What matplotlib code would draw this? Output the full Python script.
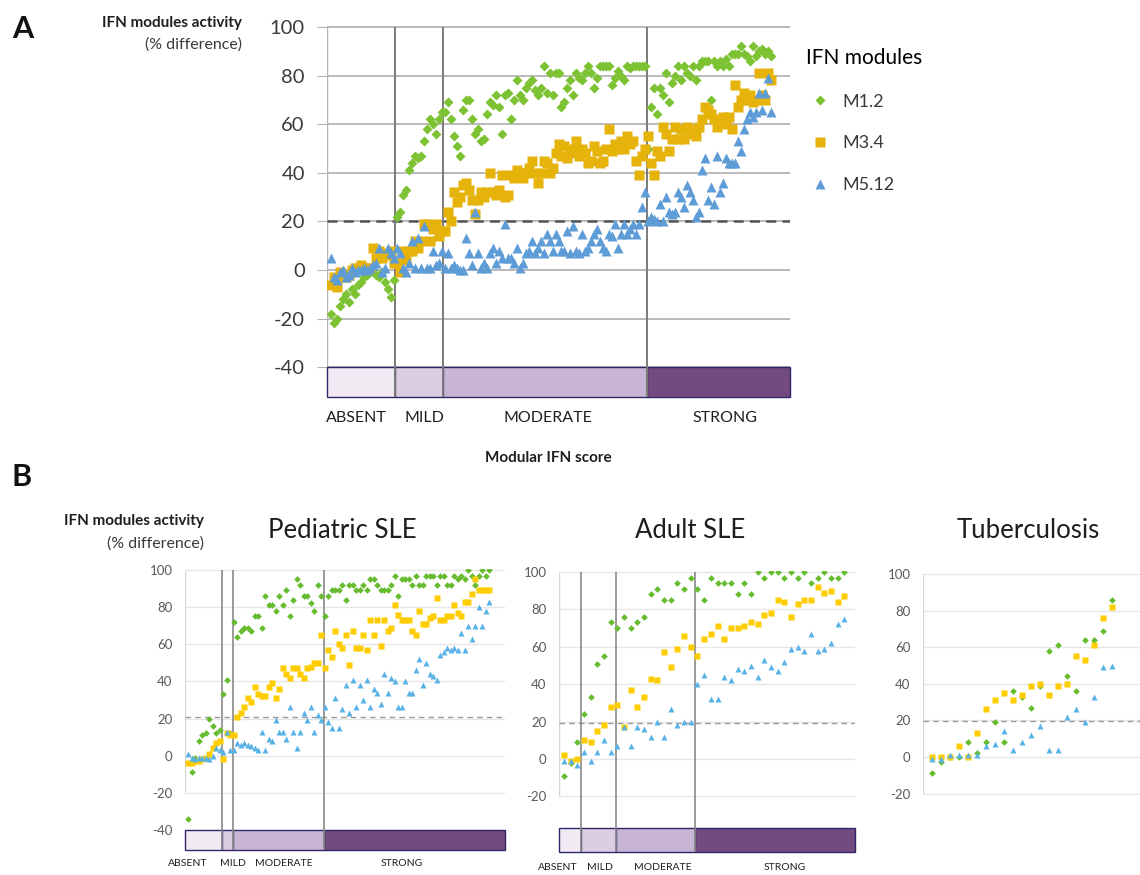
import numpy as np
import matplotlib.pyplot as plt

plt.rcParams['font.family'] = ['Lato', 'DejaVu Sans']

W, H = 1140, 875

# ---------------- data ----------------
levels = ['ABSENT', 'MILD', 'MODERATE', 'STRONG']
level_colors = ['#f2eaf3', '#dccde2', '#c8b4d4', '#744b80']
modules = ['M1.2', 'M3.4', 'M5.12']

# panel A: samples ranked by modular IFN score
a_bounds = [21.5, 37.5, 105.5]
a_m12 = [-18, -22, -20, -15, -12, -10, -13, -8, -10, -6, -5, -3, -2, -1, 0, -2, -3, -1, -5, -8, -11, -4,
         22, 24, 31, 33, 41, 44, 47, 46, 47, 53, 58, 62, 60, 56, 62, 65,
         65, 69, 62, 55, 51, 47, 66, 70, 70, 62, 56, 58, 53, 54, 64, 69, 68, 72, 67, 56,
         72, 73, 62, 70, 78, 72, 70, 75, 77, 78, 74, 72, 75, 84, 73, 81, 72, 81, 81, 67,
         69, 75, 78, 72, 81, 79, 78, 81, 84, 81, 75, 79, 84, 84, 84, 84, 76, 79, 82, 80,
         78, 84, 83, 84, 84, 84, 84, 84,
         50, 67, 75, 64, 75, 72, 81, 69, 77, 80, 84, 78, 84, 81, 80, 84, 78, 84, 86, 86,
         86, 70, 86, 84, 86, 84, 87, 84, 89, 89, 89, 92, 89, 88, 86, 92, 88, 90, 91, 89, 90, 88]
a_m34 = [-6, -3, -7, -1, -3, -3, -2, 0, 1, 1, 2, 1, 1, 1, 9, 5, 8, 5, 7, 6, 8, 3,
         3, -1, 8, 4, 8, 8, 12, 9, 12, 19, 19, 12, 17, 19, 14, 16,
         16, 24, 20, 32, 28, 30, 35, 36, 33, 29, 23, 29, 32, 30, 32, 40, 32, 31, 33, 39,
         30, 31, 39, 38, 41, 40, 38, 40, 42, 45, 40, 36, 40, 45, 44, 40, 42, 48, 52, 47,
         51, 46, 48, 50, 53, 47, 50, 48, 44, 45, 51, 49, 44, 45, 50, 58, 49, 52, 50, 53,
         50, 55, 52, 53, 45, 39, 47, 50,
         55, 44, 39, 49, 47, 59, 56, 49, 54, 59, 54, 58, 54, 59, 56, 58, 55, 59, 62, 67,
         66, 64, 62, 59, 61, 63, 60, 63, 58, 76, 67, 70, 73, 70, 72, 69, 70, 81, 72, 70, 81, 78]
a_m512 = [5, -3, -4, -1, 0, -3, -2, 1, -1, 0, 0, 1, 0, 1, 2, 3, 9, -1, 1, 9, 7, 5,
          9, 7, 1, -1, 3, 12, 1, 13, 1, 18, 1, 1, 8, 2, 3, 8,
          1, 7, 1, 2, 1, 0, 0, 13, 7, 2, 24, 7, 1, 3, 1, 7, 9, 3, 8, 5,
          19, 5, 5, 3, 9, 1, 3, 7, 8, 12, 7, 9, 12, 7, 15, 12, 8, 15, 12, 8,
          8, 16, 7, 18, 8, 7, 15, 8, 9, 12, 15, 17, 12, 9, 8, 15, 14, 19, 9, 15,
          19, 15, 17, 19, 15, 19, 26, 32,
          20, 22, 21, 20, 27, 20, 30, 24, 23, 24, 32, 30, 26, 35, 32, 29, 22, 24, 41, 46,
          29, 34, 27, 47, 32, 36, 46, 44, 44, 44, 53, 49, 58, 62, 65, 63, 65, 73, 66, 73, 79, 65]

# panel B: pediatric SLE
ped_bounds = [9.6, 12.8, 38.8]
ped_m12 = [-34, -9, -1, 8, 11, 12, 20, 16, 12, 14, 33, 41, 12,
           72, 64, 67, 69, 69, 67, 75, 75, 69, 86, 81, 81, 78, 86, 81, 89, 75, 84, 95, 92,
           86, 86, 82, 78, 92, 86,
           75, 86, 89, 89, 89, 92, 84, 92, 92, 89, 89, 92, 89, 95, 95, 92, 89, 89, 89, 92,
           97, 86, 95, 95, 95, 92, 97, 92, 92, 97, 97, 97, 92, 97, 97, 92, 92, 97, 95, 97,
           95, 100, 97, 92, 97, 100, 97, 100]
ped_m34 = [-4, -4, -3, -3, -2, -1, 1, 4, 7, 8, -2, 12, 11,
           11, 21, 23, 26, 31, 29, 37, 33, 32, 32, 37, 39, 31, 36, 47, 44, 42, 47, 47, 44,
           42, 47, 48, 50, 50, 65,
           47, 57, 53, 67, 60, 58, 65, 49, 67, 58, 58, 65, 57, 73, 65, 73, 59, 73, 67, 69,
           81, 76, 73, 73, 73, 67, 65, 78, 71, 71, 74, 75, 85, 73, 73, 75, 75, 81, 77, 75,
           83, 83, 87, 95, 89, 89, 89, 89]
ped_m512 = [1, -1, -2, -1, -1, -1, -2, 0, 4, 3, 2, 13, 3,
            3, 7, 6, 7, 6, 5, 4, 3, 13, 3, 9, 8, 19, 13, 13, 9, 26, 13, 4, 13, 23, 19, 26, 13, 22, 19,
            26, 18, 15, 31, 15, 25, 38, 23, 41, 26, 38, 30, 41, 26, 36, 34, 28, 44, 34, 42,
            40, 26, 26, 40, 34, 34, 46, 52, 38, 50, 44, 43, 41, 54, 56, 58, 57, 58, 57, 66,
            57, 70, 63, 70, 80, 70, 78, 83]

# panel B: adult SLE
adu_bounds = [2.6, 7.8, 19.7]
adu_m12 = [-9, -2, 9, 24, 33, 51, 55, 73, 70, 76, 70, 73, 76, 88, 91, 85, 85, 94, 91, 97,
           91, 85, 97, 94, 94, 94, 88, 94, 88, 100, 97, 100, 100, 97, 100, 97, 100, 94, 97, 100,
           97, 97, 100]
adu_m34 = [2, -1, 0, 10, 9, 15, 18, 28, 29, 17, 37, 28, 33, 43, 42, 57, 49, 59, 66, 60,
           55, 64, 67, 71, 64, 70, 70, 71, 73, 72, 77, 78, 85, 84, 76, 83, 85, 85, 92, 89,
           90, 84, 87]
adu_m512 = [-1, -1, -3, 4, -1, 4, 10, 4, 7, 17, 7, 17, 16, 12, 20, 12, 27, 18, 20, 20,
            40, 45, 32, 32, 44, 42, 48, 47, 50, 44, 53, 49, 47, 52, 59, 60, 58, 67, 58, 59,
            62, 72, 75]

# panel B: tuberculosis
tb_m12 = [-9, -3, 0, 0, 8, 2, 8, 19, 8, 36, 33, 27, 39, 58, 61, 44, 36, 64, 64, 69, 86]
tb_m34 = [0, 0, 0, 6, 0, 13, 26, 31, 35, 31, 34, 39, 40, 34, 39, 40, 55, 53, 61, 76, 82]
tb_m512 = [-1, -1, 1, 1, 1, 1, 6, 7, 14, 4, 8, 12, 17, 4, 4, 22, 26, 19, 33, 49, 50]

# ---------------- drawing ----------------
fig = plt.figure(figsize=(W / 100, H / 100), dpi=100)


def add_ax(left, right, y100, y0, ylim):
    ppu = (y0 - y100) / 100.0
    top = y0 - ylim[1] * ppu
    bottom = y0 - ylim[0] * ppu
    return fig.add_axes([left / W, 1 - bottom / H, (right - left) / W, (bottom - top) / H])


def ftext(x, y, s, **kw):
    fig.text(x / W, 1 - y / H, s, **kw)


def panel(ax, series, xlim, ylim, ticks, grid_lo, thr, look, bounds=None, bar=None):
    ax.set_xlim(*xlim)
    ax.set_ylim(*ylim)
    for s in ax.spines.values():
        s.set_visible(False)
    ax.set_xticks([])
    ax.set_yticks(ticks)
    ax.set_yticklabels([str(t) for t in ticks])
    ax.tick_params(axis='y', length=look['tlen'], color=look['grid'], pad=look['pad'],
                   labelsize=look['tfs'], labelcolor=look['tcol'])
    gl = [t for t in ticks if t >= grid_lo]
    ax.hlines(gl, xlim[0], xlim[1], color=look['grid'], lw=look['glw'], zorder=1)
    ax.vlines(xlim[0], grid_lo, 100, color=look['spine'], lw=1.0, zorder=1)
    ax.axhline(thr, color=look['dash'], lw=look['dlw'], ls=(0, look['dpat']), zorder=2)
    if bar is not None:
        edges = [xlim[0]] + list(bounds) + [xlim[1]]
        ax.bar(edges[:-1], bar[1] - bar[0], width=np.diff(edges), bottom=bar[0], align='edge',
               color=level_colors, edgecolor='#2f2668', lw=1.0, zorder=3, clip_on=False)
        ax.vlines(bounds, bar[0], 100, color=look['vcol'], lw=look['vlw'], zorder=4)
    idx = np.arange(len(series[0]))
    hs = []
    for vals, mk, ms, col in zip(series, ['D', 's', '^'], look['ms'], look['cols']):
        h, = ax.plot(idx, vals, ls='none', marker=mk, ms=ms, color=col, mec='none', zorder=5)
        hs.append(h)
    return hs


look_a = dict(tlen=7, pad=9, tfs=14.5, tcol='#3a3a3a', grid='#b4b4b4', glw=1.3, spine='#b4b4b4',
              dash='#555555', dlw=1.8, dpat=(4, 2.5), vcol='#7a7a7a', vlw=1.4,
              ms=[5.4, 6.8, 6.8], cols=['#7cc233', '#e6b30a', '#5d9cd6'])
look_b = dict(tlen=0, pad=9, tfs=9.5, tcol='#5a5a5a', grid='#e6e6e6', glw=1.0, spine='#d6d6d6',
              dash='#9a9a9a', dlw=1.0, dpat=(4, 3), vcol='#8a8a8a', vlw=1.2,
              ms=[3.4, 4.6, 4.6], cols=['#66bb2e', '#ffcc00', '#59b2e6'])

# panel A
axA = add_ax(327, 790, 27, 270, (-52.6, 100.6))
hA = panel(axA, [a_m12, a_m34, a_m512], (-1.2, 153.2), (-52.6, 100.6),
           list(range(-40, 101, 20)), -40, 20, look_a, a_bounds, (-52.3, -40))
fig.legend(hA, modules, title='IFN modules', loc='upper left',
           bbox_to_anchor=(806 / W, 1 - 48 / H), frameon=False, fontsize=13, title_fontsize=15,
           labelspacing=1.42, handlelength=1.5, handletextpad=0.5, borderpad=0,
           borderaxespad=0, alignment='left', labelcolor='#3a3a3a')
for lab, xc in zip(levels, [356, 424, 548, 725]):
    ftext(xc, 418, lab, ha='center', va='center', fontsize=11.5, color='#1e1e1e')
ftext(548, 458, 'Modular IFN score', ha='center', va='center', fontsize=11, fontweight='bold',
      color='#1e1e1e')
ftext(242, 23, 'IFN modules activity', ha='right', va='center', fontsize=11, fontweight='bold',
      color='#1e1e1e')
ftext(242, 45, '(% difference)', ha='right', va='center', fontsize=11.5, color='#3a3a3a')
ftext(12, 29, 'A', ha='left', va='center', fontsize=22, fontweight='bold', color='#111111')
ftext(12, 477, 'B', ha='left', va='center', fontsize=22, fontweight='bold', color='#111111')

# panel B: pediatric
axP = add_ax(185, 505, 570, 755.7, (-51.2, 100.6))
panel(axP, [ped_m12, ped_m34, ped_m512], (-0.9, 90.5), (-51.2, 100.6),
      list(range(-40, 101, 20)), -20, 20.7, look_b, ped_bounds, (-50.8, -40))
for lab, xc in zip(levels, [188, 233, 284, 402]):
    ftext(xc, 864, lab, ha='center', va='center', fontsize=7.5, color='#1e1e1e')
ftext(342, 531, 'Pediatric SLE', ha='center', va='center', fontsize=18.5, color='#1e1e1e')
ftext(204, 521, 'IFN modules activity', ha='right', va='center', fontsize=11, fontweight='bold',
      color='#1e1e1e')
ftext(204, 544, '(% difference)', ha='right', va='center', fontsize=11.5, color='#3a3a3a')

# panel B: adult
axD = add_ax(559, 855, 572, 759, (-50.2, 100.6))
panel(axD, [adu_m12, adu_m34, adu_m512], (-0.75, 43.6), (-50.2, 100.6),
      list(range(-20, 101, 20)), -20, 19.4, look_b, adu_bounds, (-49.7, -37))
for lab, xc in zip(levels, [558, 600, 663, 785]):
    ftext(xc, 867, lab, ha='center', va='center', fontsize=7.5, color='#1e1e1e')
ftext(690, 531, 'Adult SLE', ha='center', va='center', fontsize=18.5, color='#1e1e1e')

# panel B: tuberculosis
axT = add_ax(923, 1140, 574, 757, (-21, 100.6))
panel(axT, [tb_m12, tb_m34, tb_m512], (-1, 23.1), (-21, 100.6),
      list(range(-20, 101, 20)), -20, 19.7, look_b)
ftext(1028, 531, 'Tuberculosis', ha='center', va='center', fontsize=18.5, color='#1e1e1e')

fig.savefig('out.png', dpi=100, facecolor='white')
